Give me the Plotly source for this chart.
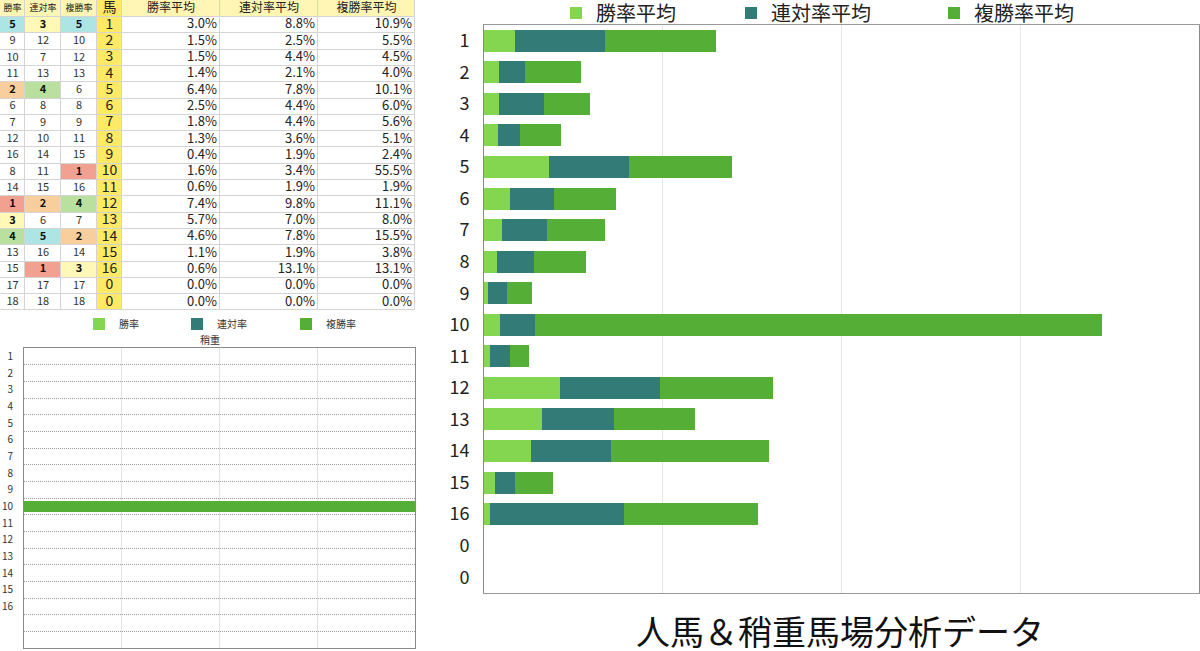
import plotly.graph_objects as go

W, H = 1200, 651

# ---------------- data ----------------
horses = ['1', '2', '3', '4', '5', '6', '7', '8', '9', '10', '11', '12', '13', '14', '15', '16', '0', '0']
win_avg = [3.0, 1.5, 1.5, 1.4, 6.4, 2.5, 1.8, 1.3, 0.4, 1.6, 0.6, 7.4, 5.7, 4.6, 1.1, 0.6, 0.0, 0.0]
ren_avg = [8.8, 2.5, 4.4, 2.1, 7.8, 4.4, 4.4, 3.6, 1.9, 3.4, 1.9, 9.8, 7.0, 7.8, 1.9, 13.1, 0.0, 0.0]
fuku_avg = [10.9, 5.5, 4.5, 4.0, 10.1, 6.0, 5.6, 5.1, 2.4, 55.5, 1.9, 11.1, 8.0, 15.5, 3.8, 13.1, 0.0, 0.0]
rank_win = [5, 9, 10, 11, 2, 6, 7, 12, 16, 8, 14, 1, 3, 4, 13, 15, 17, 18]
rank_ren = [3, 12, 7, 13, 4, 8, 9, 10, 14, 11, 15, 2, 6, 5, 16, 1, 17, 18]
rank_fuku = [5, 10, 12, 13, 6, 8, 9, 11, 15, 1, 16, 4, 7, 2, 14, 3, 17, 18]
# 稍重 chart values
yaya_win = [0, 0, 0, 0, 0, 0, 0, 0, 0, 0, 0, 0, 0, 0, 0, 0, 0, 0]
yaya_ren = [0, 0, 0, 0, 0, 0, 0, 0, 0, 0, 0, 0, 0, 0, 0, 0, 0, 0]
yaya_fuku = [0, 0, 0, 0, 0, 0, 0, 0, 0, 100, 0, 0, 0, 0, 0, 0, 0, 0]

col_headers = ['勝率', '連対率', '複勝率', '馬', '勝率平均', '連対率平均', '複勝率平均']
title_text = '人馬＆稍重馬場分析データ'
sub_title = '稍重'

# ---------------- styles ----------------
FONT = 'Noto Sans CJK JP'
C_WIN = '#84D651'
C_REN = '#337B76'
C_FUKU = '#55AE36'
RANK_COLORS = ['#F2A191', '#F8CF9C', '#FFF8B6', '#B9E09F', '#ADE5E4']   # ranks 1..5
HORSE_FILL = '#FFE966'
HEAD_FILL = '#FFF5B4'
TABLE_LINE = '#D4D4D4'
COL_W = [25, 36, 36, 25, 98, 98, 97]
HEAD_H = 17
ROW_H = 16.3


def px(x):
    return x / W


def py(y):
    return 1 - y / H


n = len(horses)
pos = list(range(1, n + 1))

fig = go.Figure()

# ---------------- table (drawn as a grid of cells) ----------------
x_edges = [0]
for w in COL_W:
    x_edges.append(x_edges[-1] + w)
y_edges = [0, HEAD_H]
for _ in horses:
    y_edges.append(y_edges[-1] + ROW_H)
x_mid = [(a + b) / 2 for a, b in zip(x_edges[:-1], x_edges[1:])]
y_mid = [(a + b) / 2 for a, b in zip(y_edges[:-1], y_edges[1:])]
row_mid = y_mid[1:]
table_w = x_edges[-1]
table_h = y_edges[-1]

# grid line colour underneath the cells (shows through the cell gaps)
fig.add_trace(go.Heatmap(
    x=[x_edges[0], x_edges[-1]], y=[y_edges[0], y_edges[-1]], z=[[0]],
    colorscale=[[0, TABLE_LINE], [1, TABLE_LINE]], showscale=False, hoverinfo='skip',
    xaxis='x3', yaxis='y3',
))

# colour codes: 0 white, 1..5 rank colours, 6 horse column, 7 header
palette = ['white'] + RANK_COLORS + [HORSE_FILL, HEAD_FILL]
npal = len(palette)
cscale = []
for i, c in enumerate(palette):
    cscale.append([i / npal, c])
    cscale.append([(i + 1) / npal, c])


def rcode(r):
    return r if r <= len(RANK_COLORS) else 0


z = [[7, 7, 7, 6, 7, 7, 7]]
for a, b, c in zip(rank_win, rank_ren, rank_fuku):
    z.append([rcode(a), rcode(b), rcode(c), 6, 0, 0, 0])

fig.add_trace(go.Heatmap(
    x=x_edges, y=y_edges, z=z, colorscale=cscale, zmin=-0.5, zmax=npal - 0.5,
    showscale=False, xgap=1, ygap=1, hoverinfo='skip',
    xaxis='x3', yaxis='y3',
))

# header texts
fig.add_trace(go.Scatter(
    x=x_mid, y=[y_mid[0]] * len(col_headers), text=col_headers, mode='text',
    textposition='middle center',
    textfont=dict(family=FONT, size=[9, 9, 9, 14, 12, 12, 12], color='#222222'),
    xaxis='x3', yaxis='y3', showlegend=False, hoverinfo='skip', cliponaxis=False,
))


def rank_txt(r):
    return f'<b>{r}</b>' if r <= len(RANK_COLORS) else str(r)


def rank_fc(r):
    return '#111111' if r <= len(RANK_COLORS) else '#333333'


for ci, ranks in enumerate([rank_win, rank_ren, rank_fuku]):
    fig.add_trace(go.Scatter(
        x=[x_mid[ci]] * n, y=row_mid, text=[rank_txt(r) for r in ranks], mode='text',
        textposition='middle center',
        textfont=dict(family=FONT, size=11, color=[rank_fc(r) for r in ranks]),
        xaxis='x3', yaxis='y3', showlegend=False, hoverinfo='skip', cliponaxis=False,
    ))

fig.add_trace(go.Scatter(
    x=[x_mid[3]] * n, y=row_mid, text=horses, mode='text', textposition='middle center',
    textfont=dict(family=FONT, size=14, color='#222222'),
    xaxis='x3', yaxis='y3', showlegend=False, hoverinfo='skip', cliponaxis=False,
))

for ci, vals in zip([4, 5, 6], [win_avg, ren_avg, fuku_avg]):
    fig.add_trace(go.Scatter(
        x=[x_edges[ci + 1] - 3] * n, y=row_mid, text=[f'{v:.1f}%' for v in vals],
        mode='text', textposition='middle left',
        textfont=dict(family=FONT, size=13, color='#222222'),
        xaxis='x3', yaxis='y3', showlegend=False, hoverinfo='skip', cliponaxis=False,
    ))

# ---------------- main chart ----------------
for name, vals, col, lg in [('勝率平均', win_avg, C_WIN, 'legend'),
                            ('連対率平均', ren_avg, C_REN, 'legend2'),
                            ('複勝率平均', fuku_avg, C_FUKU, 'legend3')]:
    fig.add_trace(go.Bar(
        x=vals, y=pos, orientation='h', name=name, width=0.7,
        marker=dict(color=col, line=dict(width=0)),
        xaxis='x', yaxis='y', legend=lg, hoverinfo='x+name', showlegend=True,
    ))

# ---------------- small 稍重 chart ----------------
for name, vals, col, lg in [('勝率', yaya_win, C_WIN, 'legend4'),
                            ('連対率', yaya_ren, C_REN, 'legend5'),
                            ('複勝率', yaya_fuku, C_FUKU, 'legend6')]:
    fig.add_trace(go.Bar(
        x=vals, y=pos, orientation='h', name=name, width=0.7,
        marker=dict(color=col, line=dict(width=0)),
        xaxis='x2', yaxis='y2', legend=lg, hoverinfo='x+name', showlegend=True,
    ))

big_leg = dict(orientation='h', yanchor='middle', xanchor='left',
               font=dict(family=FONT, size=20, color='#222222'),
               bgcolor='rgba(0,0,0,0)', borderwidth=0)
small_leg = dict(orientation='h', yanchor='middle', xanchor='left',
                 font=dict(family=FONT, size=10, color='#333333'),
                 bgcolor='rgba(0,0,0,0)', borderwidth=0)

fig.update_layout(
    width=W, height=H,
    margin=dict(l=0, r=0, t=0, b=0, pad=0, autoexpand=False),
    paper_bgcolor='white', plot_bgcolor='white',
    barmode='stack', bargap=0.3, showlegend=True,
    font=dict(family=FONT, color='#222222'),
    legend=dict(big_leg, x=px(556), y=py(13)),
    legend2=dict(big_leg, x=px(731), y=py(13)),
    legend3=dict(big_leg, x=px(934), y=py(13)),
    legend4=dict(small_leg, x=px(79), y=py(324)),
    legend5=dict(small_leg, x=px(177), y=py(324)),
    legend6=dict(small_leg, x=px(286), y=py(324)),
    xaxis=dict(
        domain=[px(484), px(1199)], range=[0, 70], tick0=0, dtick=17.5,
        showticklabels=False, ticks='', showgrid=True, gridcolor='#E6E6E6', gridwidth=1,
        zeroline=False, showline=True, linecolor='#9A9A9A', linewidth=1, mirror=True,
        automargin=False, fixedrange=True,
    ),
    yaxis=dict(
        domain=[py(593), py(25)], range=[n + 0.5, 0.5],
        tickmode='array', tickvals=pos, ticktext=horses,
        showgrid=False, zeroline=False, ticks='', ticklabelstandoff=10,
        tickfont=dict(family=FONT, size=18, color='#222222'),
        showline=True, linecolor='#8A8A8A', linewidth=1, mirror=True,
        automargin=False, fixedrange=True,
    ),
    xaxis2=dict(
        domain=[px(24), px(415)], range=[0, 100], tick0=0, dtick=25,
        showticklabels=False, ticks='', showgrid=True, gridcolor='#E2E2E2', gridwidth=1,
        zeroline=False, showline=True, linecolor='#8A8A8A', linewidth=1, mirror=True,
        anchor='y2', automargin=False, fixedrange=True,
    ),
    yaxis2=dict(
        domain=[py(648), py(348)], range=[n + 0.5, 0.5],
        tickmode='array', tickvals=pos, ticktext=[h if h != '0' else '' for h in horses],
        showgrid=False, zeroline=False, ticks='', ticklabelstandoff=8,
        tickfont=dict(family=FONT, size=10, color='#333333'),
        showline=True, linecolor='#8A8A8A', linewidth=1, mirror=True,
        minor=dict(tickvals=[p + 0.5 for p in pos[:-1]], showgrid=True, griddash='1px,1px',
                   gridcolor='#9C9C9C', gridwidth=1, ticks=''),
        anchor='x2', automargin=False, fixedrange=True,
    ),
    xaxis3=dict(
        domain=[0, px(table_w + 1)], range=[0, table_w + 1],
        showticklabels=False, ticks='', showgrid=False, zeroline=False,
        showline=False, anchor='y3', automargin=False, fixedrange=True,
    ),
    yaxis3=dict(
        domain=[py(table_h + 1), 1], range=[table_h + 1, 0],
        showticklabels=False, ticks='', showgrid=False, zeroline=False,
        showline=False, anchor='x3', automargin=False, fixedrange=True,
    ),
    annotations=[
        dict(text=title_text, x=px(840), y=py(630), xref='paper', yref='paper',
             showarrow=False, xanchor='center', yanchor='middle',
             font=dict(family=FONT, size=34, color='#111111')),
        dict(text=sub_title, x=px(210), y=py(339), xref='paper', yref='paper',
             showarrow=False, xanchor='center', yanchor='middle',
             font=dict(family=FONT, size=10, color='#333333')),
    ],
)

fig.write_html('out.html', config={'displayModeBar': False},
               post_script="document.body.style.margin='0px';document.body.style.overflow='hidden';")
